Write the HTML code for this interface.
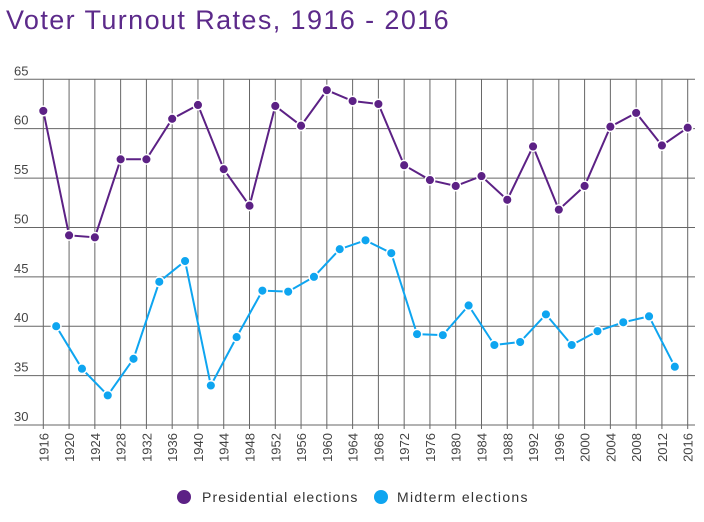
<!DOCTYPE html>
<html><head><meta charset="utf-8"><style>
body{margin:0;background:#fff;width:704px;height:517px;overflow:hidden;font-family:"Liberation Sans",sans-serif}
</style></head><body>
<svg id="chart" width="704" height="517" xmlns="http://www.w3.org/2000/svg">
<text x="6" y="29" font-size="27" letter-spacing="1.4" fill="#5c2a8a" font-family="Liberation Sans, sans-serif">Voter Turnout Rates, 1916 - 2016</text>
<g id="grid"></g><g id="series"></g>
<g>
<circle cx="184" cy="497" r="7" fill="#5c2185"/>
<text x="202" y="502" font-size="14" letter-spacing="1.1" fill="#333">Presidential elections</text>
<circle cx="381" cy="497" r="7" fill="#0ea5f0"/>
<text x="397" y="502" font-size="14" letter-spacing="1.3" fill="#333">Midterm elections</text>
</g>
</svg>
<script>
const presYears=[1916,1920,1924,1928,1932,1936,1940,1944,1948,1952,1956,1960,1964,1968,1972,1976,1980,1984,1988,1992,1996,2000,2004,2008,2012,2016];
const presValues=[61.8,49.2,49.0,56.9,56.9,61.0,62.4,55.9,52.2,62.3,60.3,63.9,62.8,62.5,56.3,54.8,54.2,55.2,52.8,58.2,51.8,54.2,60.2,61.6,58.3,60.1];
const midYears=[1918,1922,1926,1930,1934,1938,1942,1946,1950,1954,1958,1962,1966,1970,1974,1978,1982,1986,1990,1994,1998,2002,2006,2010,2014];
const midValues=[40.0,35.7,33.0,36.7,44.5,46.6,34.0,38.9,43.6,43.5,45.0,47.8,48.7,47.4,39.2,39.1,42.1,38.1,38.4,41.2,38.1,39.5,40.4,41.0,35.9];
const yTicks=[30,35,40,45,50,55,60,65];
const NS="http://www.w3.org/2000/svg";
function x(yr){return 43.3+(yr-1916)*(687.7-43.3)/100;}
function y(v){return 425-(v-30)*(425-79.3)/35;}
function mk(t,a,p){const e=document.createElementNS(NS,t);for(const k in a)e.setAttribute(k,a[k]);p.appendChild(e);return e;}
const grid=document.getElementById('grid');
yTicks.forEach(v=>{
 const l=mk('line',{x1:14,x2:695,y1:y(v),y2:y(v),stroke:'#666','stroke-width':1},grid);
 
 
 const t=mk('text',{x:14,y:y(v)-4,'font-size':13,fill:'#444'},grid);t.textContent=v;
 
 
});
presYears.forEach(yr=>{
 const l=mk('line',{x1:x(yr),x2:x(yr),y1:y(65),y2:y(30)+4,stroke:'#666','stroke-width':1},grid);
 
 
 const t=mk('text',{transform:`translate(${x(yr)+5},${y(30)+8}) rotate(-90)`,'text-anchor':'end','font-size':13,fill:'#444'},grid);t.textContent=yr;
 
 
});
const s=document.getElementById('series');
function draw(ys,vs,c,name){
 const pl=mk('polyline',{points:ys.map((yr,i)=>x(yr)+','+y(vs[i])).join(' '),fill:'none',stroke:c,'stroke-width':2},s);
 
 
 ys.forEach((yr,i)=>{const p=mk('circle',{cx:x(yr),cy:y(vs[i]),r:4.8,fill:c,stroke:'#fff','stroke-width':1.5},s);
 
 });
}
draw(presYears,presValues,'#5c2185','presidential');
draw(midYears,midValues,'#0ea5f0','midterm');
</script>
</body></html>
